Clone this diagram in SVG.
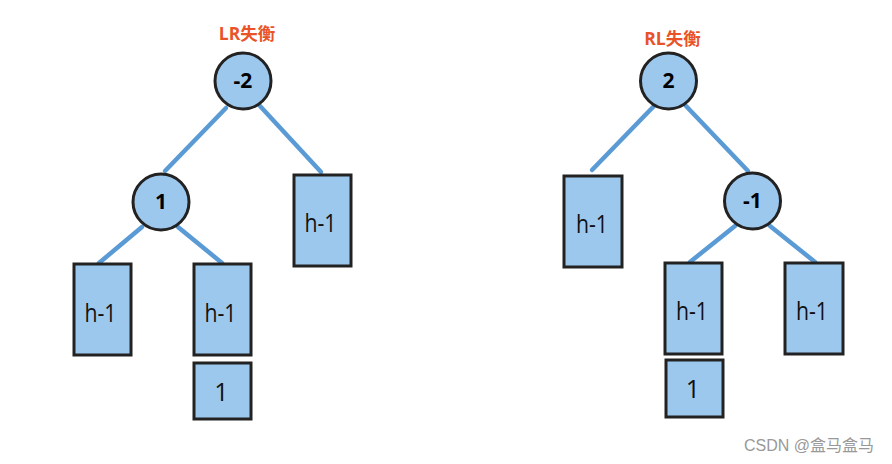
<svg xmlns="http://www.w3.org/2000/svg" width="892" height="464" viewBox="0 0 892 464">
<style>
.n{fill:#9dc8ee;stroke:#222;stroke-width:3}
.e{stroke:#5b9bd5;stroke-width:4.5;stroke-linecap:round;fill:none}
.t{font-family:"Open Sans","Noto Sans",sans-serif;font-size:25px;fill:#111;text-anchor:middle}
.b{font-family:"Open Sans","Noto Sans",sans-serif;font-size:21px;font-weight:bold;fill:#000;text-anchor:middle}
.h{font-family:"Open Sans","Noto Sans","Noto Sans CJK SC",sans-serif;font-size:17.5px;font-weight:bold;fill:#ea5228;text-anchor:middle}
.w{font-family:"Liberation Sans","Noto Sans CJK SC",sans-serif;font-size:16px;fill:#999;text-anchor:middle}
</style>
<rect width="892" height="464" fill="#fff"/>
<g id="connectors">
<line class="e" x1="226" y1="108" x2="165" y2="171"/>
<line class="e" x1="260" y1="106" x2="321" y2="172"/>
<line class="e" x1="142" y1="227" x2="99" y2="263"/>
<line class="e" x1="178" y1="227" x2="222" y2="263"/>
<line class="e" x1="654" y1="106" x2="592" y2="170"/>
<line class="e" x1="686" y1="106" x2="748" y2="171"/>
<line class="e" x1="735" y1="226" x2="690" y2="262"/>
<line class="e" x1="770" y1="226" x2="815" y2="262"/>
</g>
<text class="h" x="247" y="40">LR失衡</text>
<text class="h" x="672.5" y="45">RL失衡</text>
<g id="L_root"><circle class="n" cx="243" cy="81" r="28"/><text class="b" x="243" y="88">-2</text></g>
<g id="L_n1"><circle class="n" cx="161" cy="202" r="28"/><text class="b" x="161" y="209">1</text></g>
<g id="L_r"><rect class="n" x="294" y="175" width="57" height="91"/><text class="t" x="320.5" y="232" textLength="32" lengthAdjust="spacingAndGlyphs">h-1</text></g>
<g id="L_ll"><rect class="n" x="74" y="264" width="57" height="91"/><text class="t" x="100.5" y="322" textLength="32" lengthAdjust="spacingAndGlyphs">h-1</text></g>
<g id="L_lr"><rect class="n" x="194" y="264" width="57" height="91"/><text class="t" x="220.5" y="322" textLength="32" lengthAdjust="spacingAndGlyphs">h-1</text></g>
<g id="L_one"><rect class="n" x="194" y="363" width="57" height="56"/><text class="t" x="221.5" y="401">1</text></g>
<g id="R_root"><circle class="n" cx="668.5" cy="81" r="28"/><text class="b" x="668.5" y="88">2</text></g>
<g id="R_n1"><circle class="n" cx="752.5" cy="201" r="28"/><text class="b" x="752.5" y="208">-1</text></g>
<g id="R_l"><rect class="n" x="564" y="176" width="58" height="91"/><text class="t" x="592" y="233" textLength="32" lengthAdjust="spacingAndGlyphs">h-1</text></g>
<g id="R_rl"><rect class="n" x="665" y="263" width="57" height="91"/><text class="t" x="692" y="320" textLength="32" lengthAdjust="spacingAndGlyphs">h-1</text></g>
<g id="R_rr"><rect class="n" x="785" y="263" width="58" height="91"/><text class="t" x="812" y="320" textLength="32" lengthAdjust="spacingAndGlyphs">h-1</text></g>
<g id="R_one"><rect class="n" x="666" y="360" width="57" height="57"/><text class="t" x="693" y="398">1</text></g>
<text class="w" x="809" y="451">CSDN @盒马盒马</text>
</svg>
